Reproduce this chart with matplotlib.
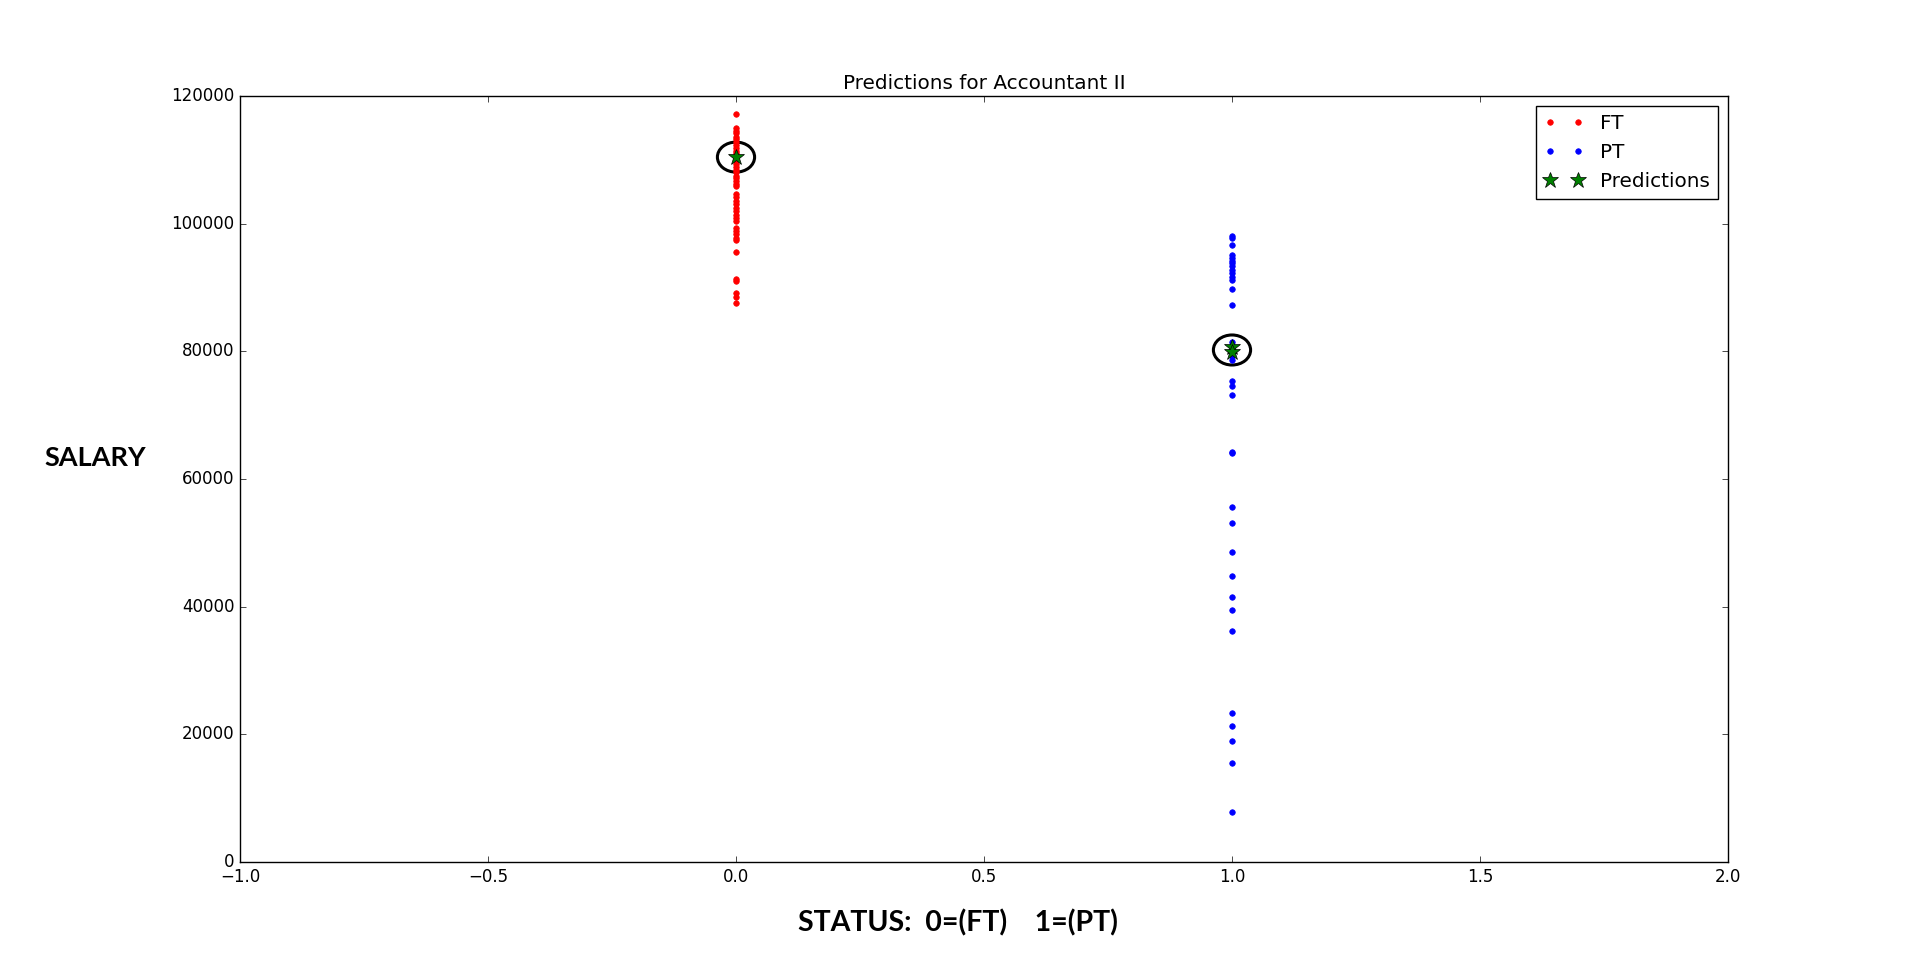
import matplotlib
matplotlib.use('Agg')
import matplotlib.pyplot as plt
from matplotlib.patches import Ellipse

plt.style.use('classic')

# salaries (dollars)
ft_salary = [117200, 114900, 114500, 114100, 113600, 113200, 112800, 112300,
             111900, 111400, 111000, 110600, 110200, 109800, 109300, 108900,
             108400, 108000, 107500, 107100, 106600, 106200, 105800, 104600,
             104200, 103600, 103100, 102500, 102000, 101400, 100900, 100400,
             99300, 98800, 98400, 97800, 97400, 95500, 91300, 91000, 89100,
             88500, 87600]
pt_salary = [98100, 97700, 96600, 95000, 94600, 94200, 93800, 93300, 92700,
             92200, 91600, 91100, 89800, 87300, 81400, 80900, 80300, 79700,
             79200, 78600, 75400, 74600, 73100, 64300, 64000, 55600, 53100,
             48600, 44800, 41500, 39500, 36200, 23400, 21300, 19000, 15500,
             7850]
pred_status = [0, 1, 1]
pred_salary = [110400, 80600, 79900]

fig = plt.figure(figsize=(19.2, 9.58), dpi=100, facecolor='white')
ax = fig.add_subplot(111)

ax.plot([0] * len(ft_salary), ft_salary, 'r.', markersize=8, label='FT')
ax.plot([1] * len(pt_salary), pt_salary, 'b.', markersize=8, label='PT')
ax.plot(pred_status, pred_salary, 'g*', markersize=12, markeredgecolor='k',
        label='Predictions')

# circle around each prediction
for s, v in zip([0, 1], [110400, 80200]):
    ax.add_patch(Ellipse((s, v), 0.075, 4700, fill=False, edgecolor='k', lw=2.2))

ax.set_xlim(-1, 2)
ax.set_ylim(0, 120000)
ax.set_title('Predictions for Accountant II', fontsize=14.4)

ax.set_xlabel('STATUS:  0=(FT)    1=(PT)', fontsize=20.5, fontweight='bold',
              family='Lato', ha='center', va='center')
ax.xaxis.set_label_coords(0.4825, -0.079)
ax.set_ylabel('SALARY', fontsize=19.5, fontweight='bold', family='Lato',
              rotation=0, ha='center', va='center')
ax.yaxis.set_label_coords(-0.0974, 0.528)

ax.legend(loc='upper right', numpoints=2, fontsize=14.4)

fig.savefig('out.png', dpi=100, facecolor='white')
